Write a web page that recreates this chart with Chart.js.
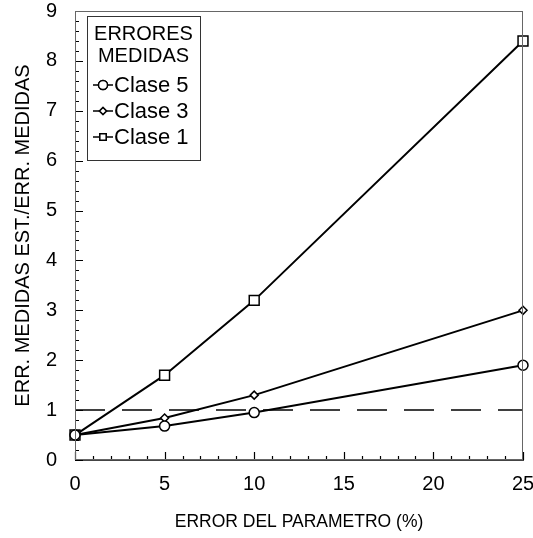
<!DOCTYPE html>
<html>
<head>
<meta charset="utf-8">
<script src="https://cdn.jsdelivr.net/npm/chart.js@4/dist/chart.umd.min.js"></script>
<style>
  html, body { margin: 0; padding: 0; background: #fff; }
  #wrap { width: 533px; height: 538px; }
</style>
</head>
<body>
<div id="wrap"><canvas id="chart" width="533" height="538"></canvas></div>
<script>
// data
const xValues = [0, 5, 10, 25];
const clase5 = [0.5, 0.68, 0.95, 1.9];
const clase3 = [0.5, 0.84, 1.3, 3.0];
const clase1 = [0.5, 1.7, 3.2, 8.4];
const refX = [0, 25];
const refY = [1, 1];
const legendTitle = ["ERRORES", "MEDIDAS"];
const legendLabels = ["Clase 5", "Clase 3", "Clase 1"];
const legendStyles = ["circle", "rectRot", "rect"];

const FONT = "'Liberation Sans', Arial, sans-serif";
const toPoints = (xs, ys) => xs.map((x, i) => ({ x: x, y: ys[i] }));

// inward ticks (major + minor) on left and bottom axes
const innerTicks = {
  id: "innerTicks",
  afterDraw(chart) {
    const ctx = chart.ctx;
    const a = chart.chartArea;
    const sx = chart.scales.x, sy = chart.scales.y;
    ctx.save();
    ctx.strokeStyle = "#000";
    ctx.lineWidth = 1.2;
    ctx.beginPath();
    for (let v = 0; v <= 25; v += 1) {
      const px = Math.round(sx.getPixelForValue(v)) + 0.5;
      const len = v % 5 === 0 ? 8 : 4;
      ctx.moveTo(px, a.bottom);
      ctx.lineTo(px, a.bottom - len);
    }
    for (let i = 0; i <= 45; i++) {
      const py = Math.round(sy.getPixelForValue(i * 0.2)) + 0.5;
      const len = i % 5 === 0 ? 8 : 4;
      ctx.moveTo(a.left, py);
      ctx.lineTo(a.left + len, py);
    }
    ctx.stroke();
    ctx.restore();
  }
};

// boxed legend with title, inside the plot
const boxLegend = {
  id: "boxLegend",
  afterDraw(chart) {
    const { ctx, chartArea: a } = chart;
    const bx = a.left + 12, by = a.top + 5, bw = 113, bh = 144;
    ctx.save();
    ctx.fillStyle = "#fff";
    ctx.fillRect(bx, by, bw, bh);
    ctx.strokeStyle = "#333";
    ctx.lineWidth = 1;
    ctx.strokeRect(bx + 0.5, by + 0.5, bw, bh);
    ctx.fillStyle = "#000";
    ctx.font = "20px " + FONT;
    ctx.textAlign = "center";
    ctx.textBaseline = "middle";
    legendTitle.forEach((t, i) => ctx.fillText(t, bx + bw / 2, by + 18 + i * 22));
    ctx.font = "22px " + FONT;
    ctx.textAlign = "left";
    legendLabels.forEach((t, i) => {
      const cy = by + 69 + i * 26;
      ctx.strokeStyle = "#000";
      ctx.lineWidth = 1.5;
      ctx.beginPath();
      ctx.moveTo(bx + 6, cy);
      ctx.lineTo(bx + 26, cy);
      ctx.stroke();
      const r = legendStyles[i] === "rectRot" ? 3.5 : 4.5;
      Chart.helpers.drawPoint(ctx, { pointStyle: legendStyles[i], radius: r, borderWidth: 1.5 }, bx + 16, cy);
      ctx.fillStyle = "#fff";
      ctx.fill();
      ctx.stroke();
      ctx.fillStyle = "#000";
      ctx.fillText(t, bx + 27, cy + 1);
    });
    ctx.restore();
  }
};

const lineDs = (label, ys, style, radius) => ({
  label: label,
  data: toPoints(xValues, ys),
  borderColor: "#000",
  borderWidth: 2,
  pointStyle: style,
  pointRadius: radius,
  pointBorderWidth: 1.5,
  pointBackgroundColor: "#fff",
  pointBorderColor: "#000",
  showLine: true,
  tension: 0
});

new Chart(document.getElementById("chart"), {
  type: "scatter",
  data: {
    datasets: [
      {
        label: "ref",
        data: toPoints(refX, refY),
        showLine: true,
        borderColor: "#000",
        borderWidth: 1.5,
        borderDash: [30, 17],
        pointRadius: 0
      },
      lineDs("Clase 5", clase5, "circle", 5),
      lineDs("Clase 3", clase3, "rectRot", 4),
      lineDs("Clase 1", clase1, "rect", 7)
    ]
  },
  options: {
    responsive: false,
    animation: false,
    clip: false,
    layout: { padding: { top: 11, right: 10, left: 0, bottom: 0 } },
    plugins: { legend: { display: false }, tooltip: { enabled: false } },
    scales: {
      x: {
        type: "linear",
        min: 0,
        max: 25,
        border: { color: "#444", width: 1 },
        grid: { display: false },
        ticks: { stepSize: 5, color: "#000", font: { family: FONT, size: 20 }, padding: 4 },
        title: { display: true, text: "ERROR DEL PARAMETRO (%)", color: "#000", font: { family: FONT, size: 17.5 }, padding: { top: 10, bottom: 5 } },
        afterFit: (s) => { s.height = 78; s.paddingLeft = 0; s.paddingRight = 0; }
      },
      y: {
        min: 0,
        max: 9,
        border: { color: "#444", width: 1 },
        grid: { display: false },
        ticks: { stepSize: 1, color: "#000", font: { family: FONT, size: 20 }, padding: 10 },
        title: { display: true, text: "ERR. MEDIDAS EST./ERR. MEDIDAS", color: "#000", font: { family: FONT, size: 20 }, padding: { top: 11, bottom: 0 } },
        afterFit: (s) => { s.width = 75; s.paddingTop = 0; s.paddingBottom = 0; }
      }
    }
  },
  plugins: [
    innerTicks,
    boxLegend,
    {
      id: "frame",
      afterDraw(chart) {
        const { ctx, chartArea: a } = chart;
        ctx.save();
        ctx.strokeStyle = "#666";
        ctx.lineWidth = 1;
        ctx.strokeRect(a.left + 0.5, a.top + 0.5, a.right - a.left - 1, a.bottom - a.top - 1);
        ctx.restore();
      }
    }
  ]
});
</script>
</body>
</html>
